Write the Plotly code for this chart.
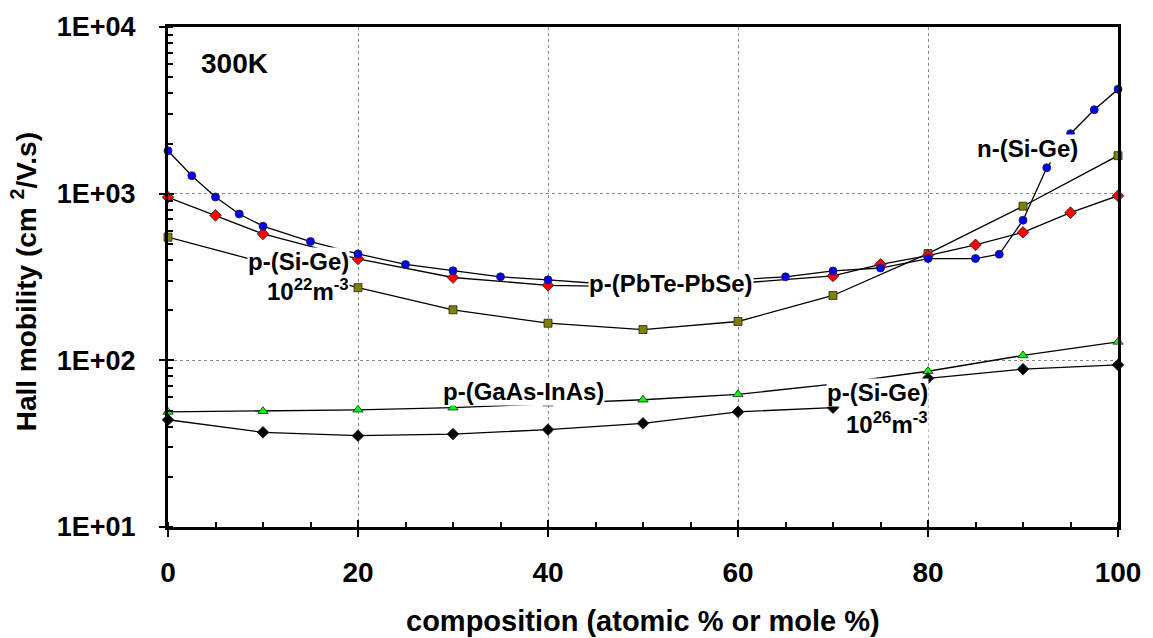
import plotly.graph_objects as go

# ---- data ----
x_nsige = [0, 2.5, 5, 7.5, 10, 15, 20, 25, 30, 35, 40, 45, 50, 55, 60, 65, 70, 75, 80, 85, 87.5, 90, 92.5, 95, 97.5, 100]
y_nsige = [1808, 1282, 955, 755, 638, 516, 435, 376, 345, 317, 304, 290, 285, 292, 305, 317, 344, 358, 408, 408, 433, 693, 1430, 2290, 3190, 4230]

x_psige22 = [0, 5, 10, 20, 30, 40, 50, 60, 70, 75, 80, 85, 90, 95, 100]
y_psige22 = [951, 741, 573, 406, 314, 282, 276, 290, 321, 376, 425, 493, 586, 769, 972]

x_pbte = [0, 20, 30, 40, 50, 60, 70, 80, 90, 100]
y_pbte = [548, 273, 201, 167, 153, 171, 245, 437, 841, 1690]

x_gaas = [0, 10, 20, 30, 40, 50, 60, 70, 80, 90, 100]
y_gaas = [49, 49.5, 50.5, 52, 55, 58, 62.5, 72, 86, 107, 129]

x_psige26 = [0, 10, 20, 30, 40, 50, 60, 70, 80, 90, 100]
y_psige26 = [44, 37, 35.3, 36.1, 38.4, 41.9, 49.1, 52, 78, 88.5, 94]

x_ticks = [0, 20, 40, 60, 80, 100]
y_tickvals = [10, 100, 1000, 10000]
y_ticktext = ["1E+01", "1E+02", "1E+03", "1E+04"]

FONT = "Arial, Liberation Sans, sans-serif"
W, H = 1153, 638
L, R, T, B = 168, 29, 18, 111
PW, PH = W - L - R, H - T - B


def px(xp):
    return (xp - L) / PW


def py(yp):
    return (H - B - yp) / PH


line = dict(color="black", width=1.3)
outline = dict(color="#222222", width=0.8)

fig = go.Figure()
fig.add_trace(go.Scatter(x=x_pbte, y=y_pbte, mode="lines+markers", name="p-(PbTe-PbSe)",
                         line=line, cliponaxis=False,
                         marker=dict(symbol="square", size=8, color="#808000", line=outline)))
fig.add_trace(go.Scatter(x=x_psige22, y=y_psige22, mode="lines+markers", name="p-(Si-Ge) 1e22",
                         line=line, cliponaxis=False,
                         marker=dict(symbol="diamond", size=9, color="#FF0000", line=outline)))
fig.add_trace(go.Scatter(x=x_nsige, y=y_nsige, mode="lines+markers", name="n-(Si-Ge)",
                         line=line, cliponaxis=False,
                         marker=dict(symbol="circle", size=8, color="#0000FF", line=outline)))
fig.add_trace(go.Scatter(x=x_gaas, y=y_gaas, mode="lines+markers", name="p-(GaAs-InAs)",
                         line=line, cliponaxis=False,
                         marker=dict(symbol="triangle-up", size=9, color="#00FF00", line=outline)))
fig.add_trace(go.Scatter(x=x_psige26, y=y_psige26, mode="lines+markers", name="p-(Si-Ge) 1e26",
                         line=line, cliponaxis=False, xaxis="x2", yaxis="y2",
                         marker=dict(symbol="diamond", size=9, color="#000000", line=outline)))

grid = dict(showgrid=True, gridcolor="#8a8a8a", gridwidth=1, griddash="dot")

fig.update_layout(
    width=W, height=H,
    margin=dict(l=L, r=R, t=T, b=B),
    paper_bgcolor="white", plot_bgcolor="white",
    showlegend=False,
    font=dict(family=FONT, size=28, color="black", weight="bold"),
    xaxis=dict(range=[0, 100], tickmode="array", tickvals=x_ticks,
               ticks="outside", ticklen=7, tickwidth=2, tickcolor="black",
               showline=True, linewidth=3, linecolor="black", mirror=True,
               zeroline=False, ticklabelstandoff=11,
               tickfont=dict(size=28, family=FONT, weight="bold"),
               minor=dict(dtick=5, ticks="inside", ticklen=5, tickwidth=2, tickcolor="black", showgrid=False),
               **grid),
    yaxis=dict(type="log", range=[1, 4], tickmode="array", tickvals=y_tickvals, ticktext=y_ticktext,
               ticks="outside", ticklen=6, tickwidth=2, tickcolor="black",
               showline=True, linewidth=3, linecolor="black", mirror=True,
               zeroline=False, ticklabelstandoff=18,
               tickfont=dict(size=27, family=FONT, weight="bold"),
               minor=dict(dtick="D1", ticks="inside", ticklen=5, tickwidth=1.5, tickcolor="black", showgrid=False),
               **grid),
    xaxis2=dict(range=[0, 100], overlaying="x", anchor="y2", side="bottom",
                tickmode="array", tickvals=x_ticks, ticks="inside", ticklen=7, tickwidth=2,
                tickcolor="black", showticklabels=False, showgrid=False, showline=False, zeroline=False),
    yaxis2=dict(type="log", range=[1, 4], overlaying="y", anchor="x2", side="left",
                tickmode="array", tickvals=y_tickvals, ticks="inside", ticklen=6, tickwidth=2,
                tickcolor="black", showticklabels=False, showgrid=False, showline=False, zeroline=False),
)

ann = []
# axis titles
ann.append(dict(text="composition (atomic % or mole %)", xref="paper", yref="paper",
                x=0.5, y=py(623), xanchor="center", yanchor="middle", showarrow=False,
                font=dict(size=29, family=FONT, weight="bold")))
ann.append(dict(text="Hall mobility (cm <sup>2</sup>/V.s)", xref="paper", yref="paper",
                x=px(24), y=py(277), xanchor="center", yanchor="middle", textangle=-90,
                showarrow=False, font=dict(size=28, family=FONT, weight="bold")))
# temperature
ann.append(dict(text="300K", xref="paper", yref="paper", x=px(235), y=py(55),
                xanchor="center", yanchor="middle", showarrow=False,
                font=dict(size=28, family=FONT, weight="bold")))

labels = [
    ("p-(Si-Ge)", 299, 257),
    ("10<sup>22</sup>m<sup>-3</sup>", 309, 286),
    ("p-(PbTe-PbSe)", 674, 279),
    ("n-(Si-Ge)", 1033, 142),
    ("p-(GaAs-InAs)", 526, 389),
    ("p-(Si-Ge)", 882, 390),
    ("10<sup>26</sup>m<sup>-3</sup>", 892, 421),
]
for txt, xp, yp in labels:
    ann.append(dict(text=txt, xref="paper", yref="paper", x=px(xp), y=py(yp),
                    xanchor="center", yanchor="middle", showarrow=False,
                    bgcolor="white", borderpad=0,
                    font=dict(size=24, family=FONT, weight="bold")))

fig.update_layout(annotations=ann)
fig.write_html("out.html")
